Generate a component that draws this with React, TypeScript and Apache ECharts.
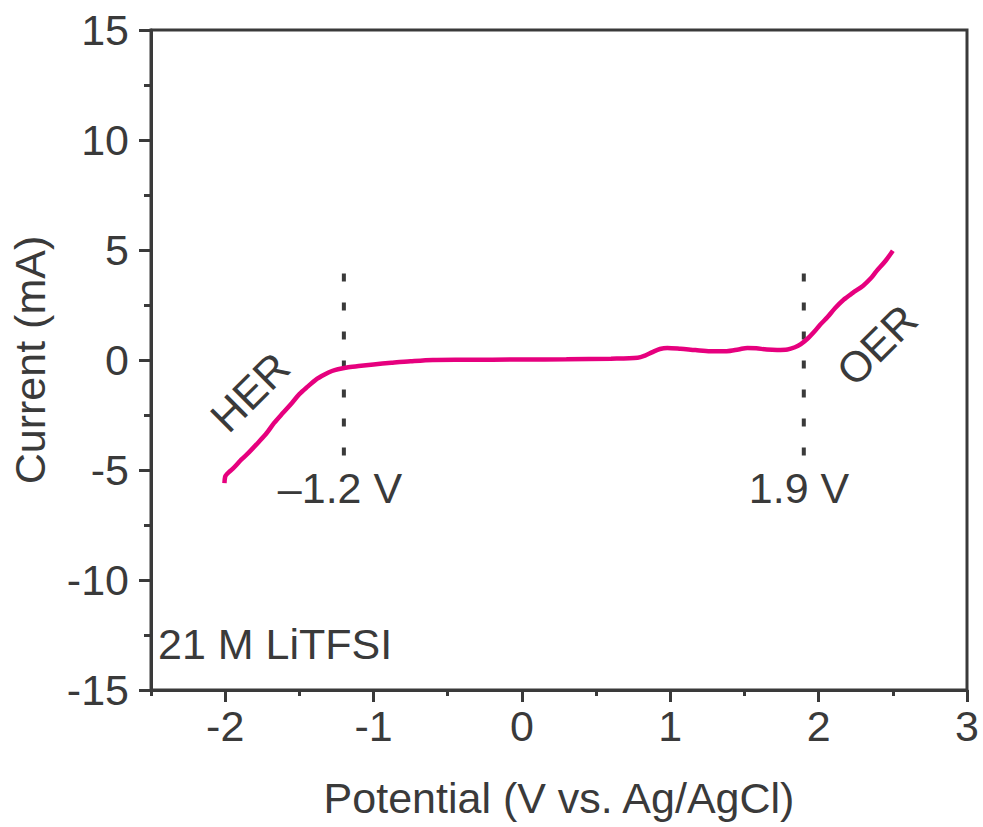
import React, { useEffect, useRef } from "react";
import * as echarts from "echarts";

// Linear sweep potentials (V vs. Ag/AgCl) and measured currents (mA)
const potential = [
  -2.005, -2.0, -1.99, -1.975, -1.95, -1.92, -1.89, -1.84, -1.78, -1.72, -1.67, -1.61,
  -1.55, -1.5, -1.44, -1.39, -1.33, -1.28, -1.24, -1.17, -1.1, -1.0, -0.88, -0.75,
  -0.6, -0.4, 0.0, 0.3, 0.6, 0.78, 0.83, 0.88, 0.93, 0.98, 1.07, 1.17, 1.27, 1.38,
  1.46, 1.52, 1.58, 1.65, 1.72, 1.79, 1.84, 1.88, 1.93, 1.97, 2.01, 2.06, 2.11,
  2.17, 2.23, 2.3, 2.35, 2.39, 2.45, 2.5,
];
const current = [
  -5.6, -5.3, -5.2, -5.1, -4.95, -4.74, -4.52, -4.2, -3.77, -3.32, -2.86, -2.4,
  -1.95, -1.55, -1.19, -0.9, -0.66, -0.5, -0.42, -0.33, -0.27, -0.2, -0.13, -0.06,
  0.0, 0.01, 0.02, 0.03, 0.06, 0.1, 0.2, 0.36, 0.5, 0.55, 0.51, 0.45, 0.4, 0.4,
  0.48, 0.55, 0.53, 0.48, 0.46, 0.48, 0.58, 0.72, 1.0, 1.28, 1.6, 1.95, 2.35,
  2.75, 3.05, 3.38, 3.7, 4.04, 4.5, 4.97,
];

// Stability window limits (V) and the vertical extent of their guide lines (mA)
const limitPotentials = [-1.2, 1.9];
const limitLabels = ["\u20131.2 V", "1.9 V"];
const guideSpan = [3.93, -4.45];

// Axis ticks
const xMajorTicks = [-2, -1, 0, 1, 2, 3];
const xMinorTicks = [-2.5, -1.5, -0.5, 0.5, 1.5, 2.5];

const INK = "#3a3a3a";
const CURVE = "#e6007e";
const FONT = "'Liberation Sans', Arial, sans-serif";
const FS = 43;

export default function App() {
  const ref = useRef<HTMLDivElement>(null);

  useEffect(() => {
    if (!ref.current) return;
    const chart = echarts.init(ref.current, null, { renderer: "svg" });

    const sweep = potential.map((v, i) => [v, current[i]]);
    const guides = limitPotentials.map((v) => ({
      type: "line",
      xAxisIndex: 0,
      yAxisIndex: 0,
      data: [
        [v, guideSpan[0]],
        [v, guideSpan[1]],
      ],
      symbol: "none",
      lineStyle: { color: INK, width: 4, type: [8, 21] },
      silent: true,
    }));

    chart.setOption({
      animation: false,
      grid: {
        left: 149,
        right: 16,
        top: 30,
        bottom: 137,
        show: true,
        borderColor: INK,
        borderWidth: 3,
      },
      xAxis: [
        {
          type: "value",
          min: -2.5,
          max: 3,
          position: "bottom",
          name: "Potential (V vs. Ag/AgCl)",
          nameLocation: "middle",
          nameGap: 86,
          nameTextStyle: { color: INK, fontSize: FS, fontFamily: FONT },
          axisLine: { show: true, onZero: false, lineStyle: { color: INK, width: 3 } },
          axisTick: {
            show: true,
            length: 12,
            customValues: xMajorTicks,
            lineStyle: { color: INK, width: 3 },
          },
          axisLabel: {
            customValues: xMajorTicks,
            color: INK,
            fontSize: FS,
            fontFamily: FONT,
            margin: 14,
          },
          splitLine: { show: false },
        },
        {
          type: "value",
          min: -2.5,
          max: 3,
          position: "bottom",
          axisLine: { show: false, onZero: false },
          axisTick: {
            show: true,
            length: 6,
            customValues: xMinorTicks,
            lineStyle: { color: INK, width: 3 },
          },
          axisLabel: { show: false },
          splitLine: { show: false },
        },
      ],
      yAxis: {
        type: "value",
        min: -15,
        max: 15,
        interval: 5,
        name: "Current (mA)",
        nameLocation: "middle",
        nameGap: 100,
        nameTextStyle: { color: INK, fontSize: FS, fontFamily: FONT },
        axisLine: { show: true, onZero: false, lineStyle: { color: INK, width: 3 } },
        axisTick: { show: true, length: 12, lineStyle: { color: INK, width: 3 } },
        minorTick: { show: true, splitNumber: 2, length: 7, lineStyle: { color: INK, width: 3 } },
        axisLabel: { color: INK, fontSize: FS, fontFamily: FONT, margin: 22 },
        splitLine: { show: false },
      },
      series: [
        ...guides,
        {
          type: "line",
          xAxisIndex: 0,
          yAxisIndex: 0,
          data: sweep,
          symbol: "none",
          smooth: 0.3,
          lineStyle: { color: CURVE, width: 4.5 },
          silent: true,
        },
      ],
      graphic: [
        {
          type: "text",
          x: 250,
          y: 392,
          rotation: Math.PI / 4,
          style: { text: "HER", fill: INK, fontSize: FS, fontFamily: FONT, align: "center", verticalAlign: "middle" },
        },
        {
          type: "text",
          x: 877,
          y: 345,
          rotation: Math.PI / 4,
          style: { text: "OER", fill: INK, fontSize: FS, fontFamily: FONT, align: "center", verticalAlign: "middle" },
        },
        {
          type: "text",
          x: 340,
          y: 488,
          style: { text: limitLabels[0], fill: INK, fontSize: FS, fontFamily: FONT, align: "center", verticalAlign: "middle" },
        },
        {
          type: "text",
          x: 799,
          y: 488,
          style: { text: limitLabels[1], fill: INK, fontSize: FS, fontFamily: FONT, align: "center", verticalAlign: "middle" },
        },
        {
          type: "text",
          x: 158,
          y: 644,
          style: { text: "21 M LiTFSI", fill: INK, fontSize: FS, fontFamily: FONT, align: "left", verticalAlign: "middle" },
        },
      ],
    });

    return () => chart.dispose();
  }, []);

  return <div ref={ref} style={{ width: 983, height: 827, position: "absolute", left: 0, top: 0 }} />;
}
